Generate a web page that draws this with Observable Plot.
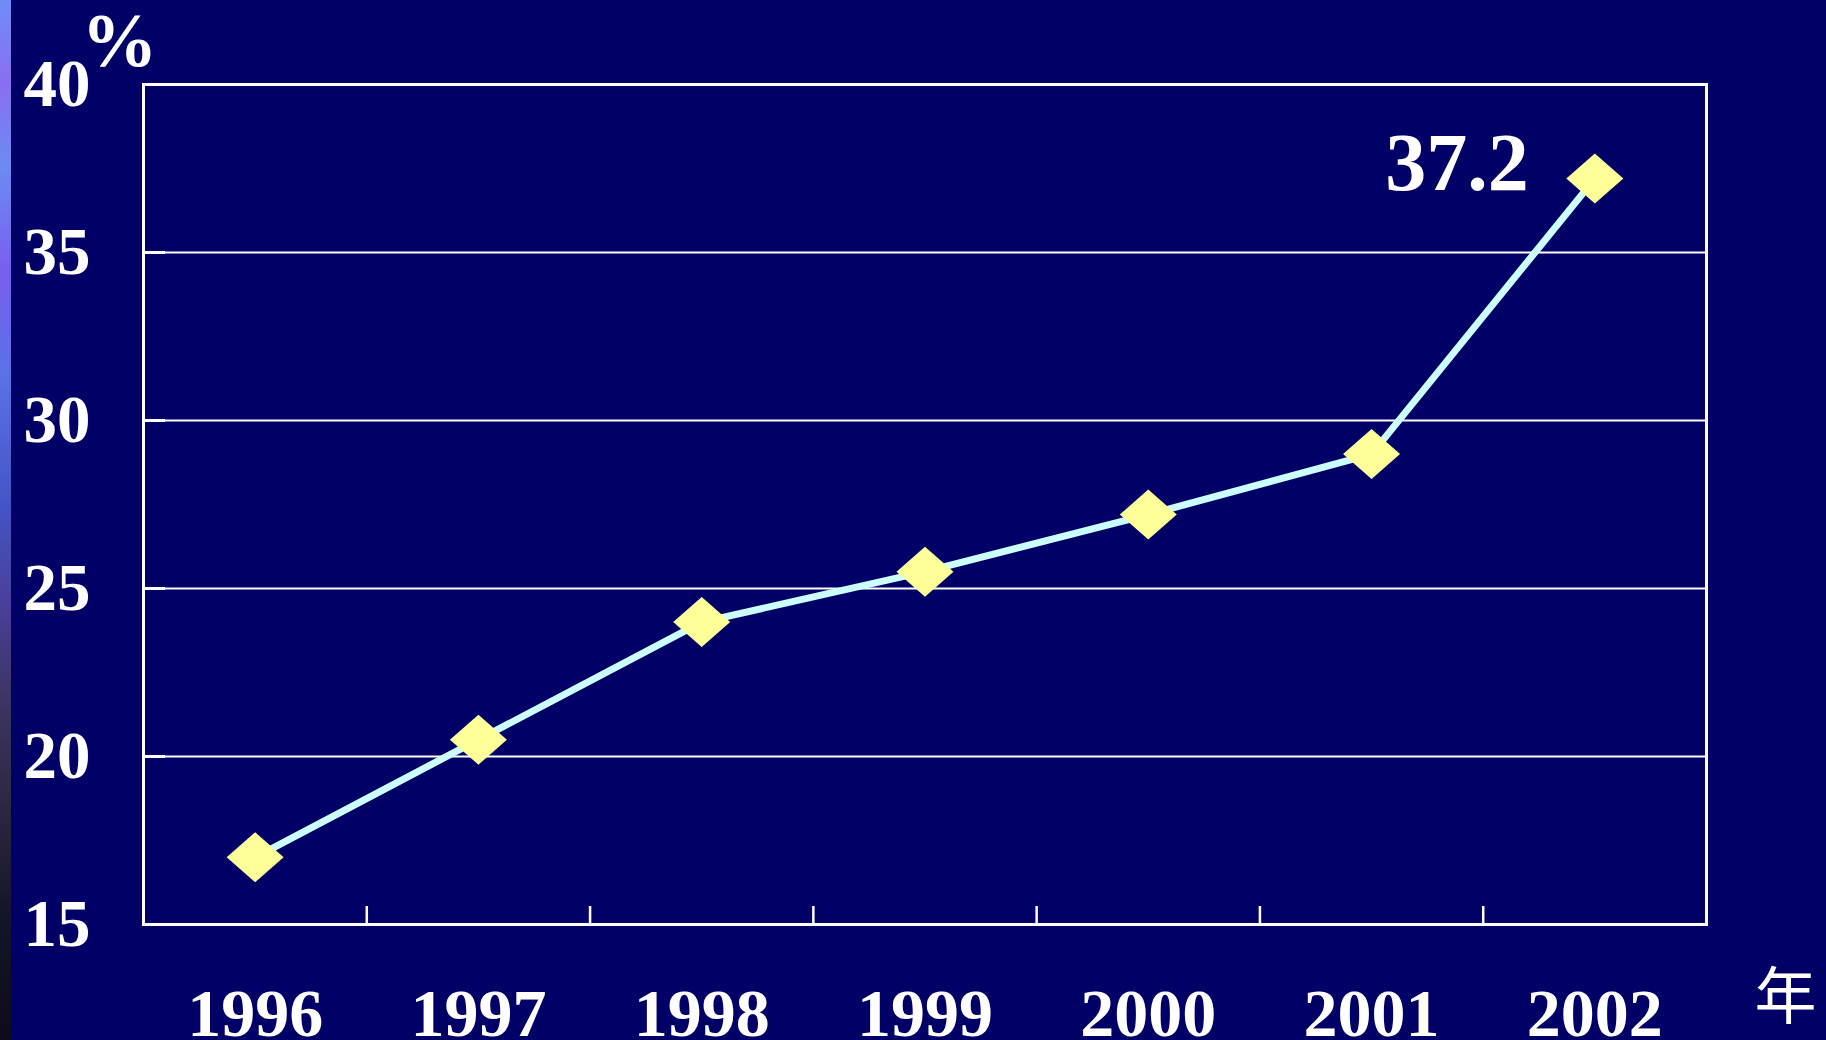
<!DOCTYPE html>
<html>
<head>
<meta charset="utf-8">
<script src="https://cdn.jsdelivr.net/npm/d3@7"></script>
<script src="https://cdn.jsdelivr.net/npm/@observablehq/plot@0.6"></script>
<style>
  html, body { margin: 0; padding: 0; background: #000066; }
  #wrap { position: relative; width: 1826px; height: 1040px; overflow: hidden; background: #000066; }
  #strip { position: absolute; left: 0; top: 0; width: 11px; height: 1040px;
    background: linear-gradient(to bottom, #6f8df6 0%, #8a6ef2 8%, #6a8cf0 16%, #7a5ef0 26%, #5a72e6 36%, #4456c8 48%, #4a3f9a 58%, #3a3560 68%, #2a2840 78%, #15152a 88%, #0c0c1c 100%); }
  svg { position: absolute; left: 0; top: 0; }
</style>
</head>
<body>
<div id="wrap"><div id="strip"></div></div>
<script>
// ---- data ----
const years = [1996, 1997, 1998, 1999, 2000, 2001, 2002];
const values = [17.0, 20.5, 24.0, 25.5, 27.2, 29.0, 37.2];
const yTicks = [15, 20, 25, 30, 35, 40];
const valueUnit = "%";
const yearUnit = "年";
const highlightLabel = "37.2";

// ---- layout / style ----
const W = 1826, H = 1040;
const mL = 143, mR = 120, mT = 84, mB = 116;
const plotW = W - mL - mR, plotH = H - mT - mB;
const serif = "'Liberation Serif', 'Times New Roman', serif";

const data = years.map((year, i) => ({year, value: values[i]}));
const boundaries = years.slice(1).map(y => y - 0.5);
const innerTicks = yTicks.slice(1, -1);
const last = data[data.length - 1];

const diamond = {
  draw(context) {
    const hw = 28.5, hh = 25;
    context.moveTo(0, -hh);
    context.lineTo(hw, 0);
    context.lineTo(0, hh);
    context.lineTo(-hw, 0);
    context.closePath();
  }
};

const chart = Plot.plot({
  width: W,
  height: H,
  marginLeft: mL,
  marginRight: mR,
  marginTop: mT,
  marginBottom: mB,
  style: {background: "transparent", fontFamily: serif, fontWeight: "bold", fontSize: "66px", color: "white", overflow: "visible"},
  x: {domain: [years[0] - 0.5, years[years.length - 1] + 0.5]},
  y: {domain: [yTicks[0], yTicks[yTicks.length - 1]]},
  marks: [
    Plot.gridY(innerTicks, {stroke: "white", strokeOpacity: 1, strokeWidth: 2}),
    Plot.ruleY(innerTicks, {stroke: "white", strokeWidth: 3, insetRight: plotW - 22}),
    Plot.ruleX(boundaries, {stroke: "white", strokeWidth: 2.5, insetTop: plotH - 18}),
    Plot.frame({stroke: "white", strokeWidth: 3}),
    Plot.axisY(yTicks, {label: null, tickSize: 0, tickPadding: 53, fontSize: 67, fontWeight: "bold", fontFamily: serif, fill: "white", tickFormat: d => String(d)}),
    Plot.axisX(years, {label: null, tickSize: 0, tickPadding: 63, fontSize: 68, fontWeight: "bold", fontFamily: serif, fill: "white", tickFormat: d => String(d)}),
    Plot.line(data, {x: "year", y: "value", stroke: "#ccffff", strokeWidth: 7}),
    Plot.dot(data, {x: "year", y: "value", symbol: diamond, fill: "#ffff99", stroke: "none"}),
    Plot.text([last], {x: "year", y: "value", text: () => highlightLabel, textAnchor: "end", dx: -66, dy: -15,
      fontSize: 82, fontWeight: "bold", fontFamily: serif, fill: "white"}),
    Plot.text([valueUnit], {text: d => d, frameAnchor: "top-left", textAnchor: "middle", dx: -24, dy: -43, lineAnchor: "middle",
      fontSize: 76, fontWeight: "bold", fontFamily: serif, fill: "white"}),
    Plot.text([yearUnit], {text: d => d, frameAnchor: "bottom-right", textAnchor: "middle", dx: 79, dy: 75, lineAnchor: "middle",
      fontSize: 62, fontWeight: "normal", fontFamily: "'Noto Sans CJK SC', sans-serif", fill: "white"})
  ]
});

document.getElementById("wrap").appendChild(chart);
</script>
</body>
</html>
